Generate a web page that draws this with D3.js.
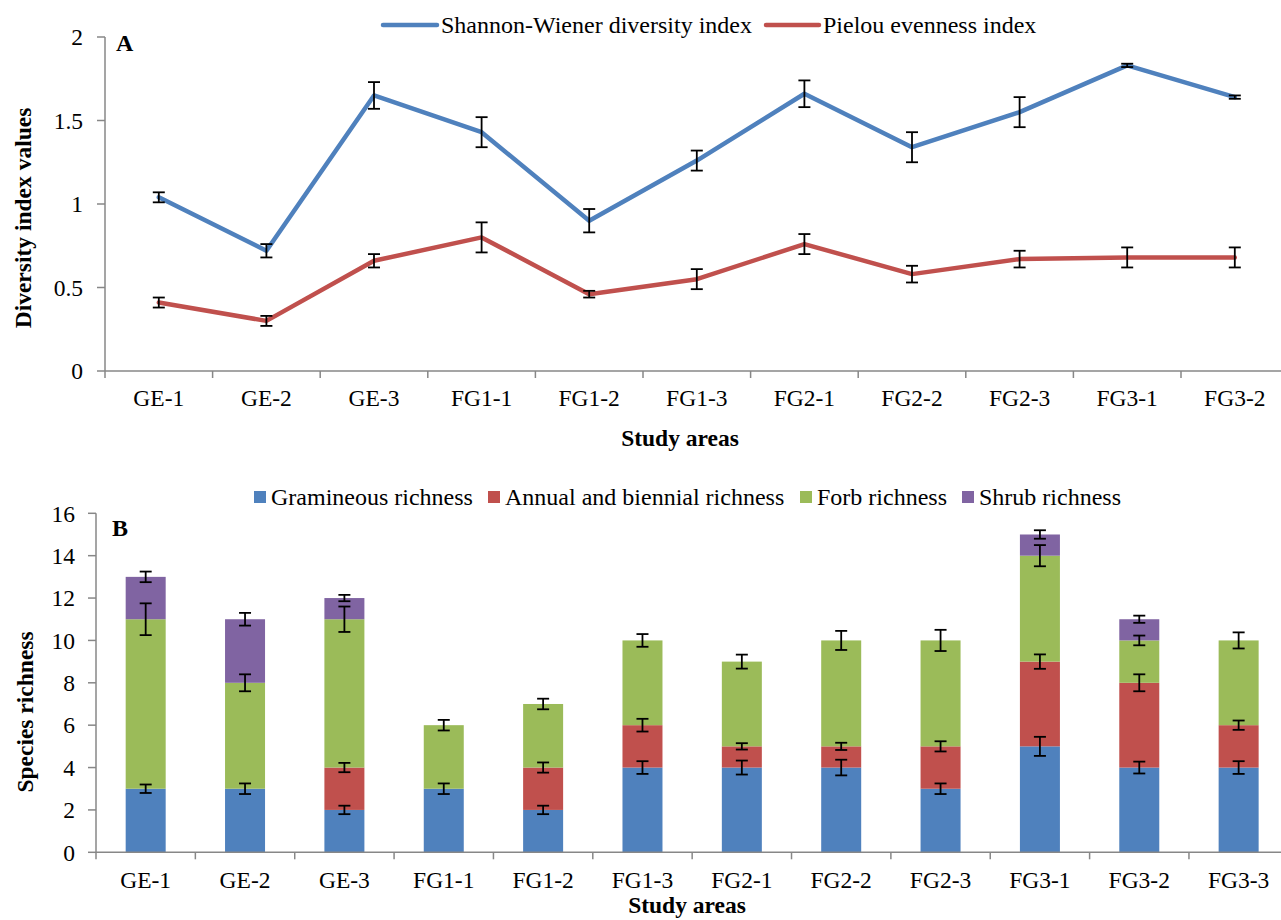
<!DOCTYPE html>
<html>
<head>
<meta charset="utf-8">
<script src="https://cdn.jsdelivr.net/npm/d3@7"></script>
<style>
  html, body { margin: 0; padding: 0; background: #fff; }
  svg { display: block; }
  text { font-family: "Liberation Serif", "Times New Roman", serif; fill: #000; }
</style>
</head>
<body>
<script>
// ---- Panel A: diversity indices ----
const sitesA = ["GE-1", "GE-2", "GE-3", "FG1-1", "FG1-2", "FG1-3", "FG2-1", "FG2-2", "FG2-3", "FG3-1", "FG3-2"];
const shannon    = [1.04, 0.72, 1.65, 1.43, 0.90, 1.26, 1.66, 1.34, 1.55, 1.83, 1.64];
const shannonErr = [0.03, 0.04, 0.08, 0.09, 0.07, 0.06, 0.08, 0.09, 0.09, 0.01, 0.01];
const pielou     = [0.41, 0.30, 0.66, 0.80, 0.46, 0.55, 0.76, 0.58, 0.67, 0.68, 0.68];
const pielouErr  = [0.03, 0.03, 0.04, 0.09, 0.02, 0.06, 0.06, 0.05, 0.05, 0.06, 0.06];
const ticksA = [0, 0.5, 1, 1.5, 2];

// ---- Panel B: species richness by life form ----
const sitesB = ["GE-1", "GE-2", "GE-3", "FG1-1", "FG1-2", "FG1-3", "FG2-1", "FG2-2", "FG2-3", "FG3-1", "FG3-2", "FG3-3"];
const gramineous    = [3, 3, 2, 3, 2, 4, 4, 4, 3, 5, 4, 4];
const gramineousErr = [0.2, 0.25, 0.2, 0.25, 0.2, 0.3, 0.33, 0.37, 0.25, 0.45, 0.28, 0.3];
const annual        = [0, 0, 2, 0, 2, 2, 1, 1, 2, 4, 4, 2];
const annualErr     = [0, 0, 0.22, 0, 0.24, 0.3, 0.15, 0.17, 0.24, 0.34, 0.4, 0.22];
const forb          = [8, 5, 7, 3, 3, 4, 4, 5, 5, 5, 2, 4];
const forbErr       = [0.75, 0.4, 0.6, 0.25, 0.25, 0.3, 0.33, 0.45, 0.5, 0.5, 0.23, 0.38];
const shrub         = [2, 3, 1, 0, 0, 0, 0, 0, 0, 1, 1, 0];
const shrubErr      = [0.25, 0.3, 0.15, 0, 0, 0, 0, 0, 0, 0.2, 0.17, 0];
const ticksB = [0, 2, 4, 6, 8, 10, 12, 14, 16];

const W = 1281, H = 920;
const axisColor = "#878787";
const svg = d3.select("body").append("svg").attr("width", W).attr("height", H);

function errorBar(g, x, yTop, yBot, cap) {
  g.append("line").attr("x1", x).attr("x2", x).attr("y1", yTop).attr("y2", yBot);
  g.append("line").attr("x1", x - cap / 2).attr("x2", x + cap / 2).attr("y1", yTop).attr("y2", yTop);
  g.append("line").attr("x1", x - cap / 2).attr("x2", x + cap / 2).attr("y1", yBot).attr("y2", yBot);
}

function categoryAxis(g, xs, y0, labelBase) {
  // axis line and boundary ticks between categories
  const edges = xs.domain().map(d => xs(d)).concat([xs.range()[1]]);
  g.append("line").attr("x1", xs.range()[0]).attr("x2", xs.range()[1])
    .attr("y1", y0).attr("y2", y0).attr("stroke", axisColor).attr("stroke-width", 1.5);
  g.selectAll(".xt").data(edges).join("line")
    .attr("x1", d => d).attr("x2", d => d).attr("y1", y0).attr("y2", y0 + 7)
    .attr("stroke", axisColor).attr("stroke-width", 1.5);
  g.selectAll(".xl").data(xs.domain()).join("text")
    .attr("x", d => xs(d) + xs.bandwidth() / 2).attr("y", labelBase)
    .attr("text-anchor", "middle").attr("font-size", 23.5).text(d => d);
}

function valueAxis(g, ys, x0, ticks, labelRight) {
  g.append("line").attr("x1", x0).attr("x2", x0)
    .attr("y1", ys.range()[0]).attr("y2", ys.range()[1])
    .attr("stroke", axisColor).attr("stroke-width", 1.5);
  g.selectAll(".yt").data(ticks).join("line")
    .attr("x1", x0 - 8).attr("x2", x0).attr("y1", d => ys(d)).attr("y2", d => ys(d))
    .attr("stroke", axisColor).attr("stroke-width", 1.5);
  g.selectAll(".yl").data(ticks).join("text")
    .attr("x", labelRight).attr("y", d => ys(d)).attr("dy", "0.35em")
    .attr("text-anchor", "end").attr("font-size", 23.5).text(d => d);
}

// ================= Panel A =================
{
  const g = svg.append("g");
  const x = d3.scaleBand().domain(sitesA).range([105, 105 + 107.6 * sitesA.length]).padding(0);
  const y = d3.scaleLinear().domain([0, 2]).range([371, 37]);
  const cx = d => x(d) + x.bandwidth() / 2;

  valueAxis(g, y, 105, ticksA, 83);
  categoryAxis(g, x, 371, 406);

  const series = [
    { name: "Shannon-Wiener diversity index", vals: shannon, err: shannonErr, color: "#4F81BD" },
    { name: "Pielou evenness index", vals: pielou, err: pielouErr, color: "#C0504D" }
  ];
  const line = d3.line().x((d, i) => cx(sitesA[i])).y(d => y(d));
  series.forEach(s => {
    g.append("path").datum(s.vals).attr("d", line).attr("fill", "none")
      .attr("stroke", s.color).attr("stroke-width", 4.5)
      .attr("stroke-linejoin", "round").attr("stroke-linecap", "round");
  });
  const eg = g.append("g").attr("stroke", "#000").attr("stroke-width", 1.8);
  series.forEach(s => {
    s.vals.forEach((v, i) => {
      errorBar(eg, cx(sitesA[i]), y(v + s.err[i]), y(v - s.err[i]), 12);
    });
  });

  // legend
  const lg = g.append("g");
  const legPos = [{ x1: 383, x2: 437, tx: 441 }, { x1: 766, x2: 819, tx: 823 }];
  series.forEach((s, i) => {
    lg.append("line").attr("x1", legPos[i].x1).attr("x2", legPos[i].x2).attr("y1", 25).attr("y2", 25)
      .attr("stroke", s.color).attr("stroke-width", 4.5).attr("stroke-linecap", "round");
    lg.append("text").attr("x", legPos[i].tx).attr("y", 33).attr("font-size", 24).text(s.name);
  });

  g.append("text").attr("x", 116).attr("y", 51).attr("font-size", 24).attr("font-weight", "bold").text("A");
  g.append("text").attr("x", 680).attr("y", 446).attr("text-anchor", "middle")
    .attr("font-size", 23.5).attr("font-weight", "bold").text("Study areas");
  g.append("text").attr("transform", "translate(31,218) rotate(-90)").attr("text-anchor", "middle")
    .attr("font-size", 23.5).attr("font-weight", "bold").text("Diversity index values");
}

// ================= Panel B =================
{
  const g = svg.append("g");
  const x = d3.scaleBand().domain(sitesB).range([96, 96 + 99.36 * sitesB.length]).padding(0);
  const y = d3.scaleLinear().domain([0, 16]).range([852.3, 513.3]);
  const barW = 40;
  const cx = d => x(d) + x.bandwidth() / 2;

  const keys = ["gramineous", "annual", "forb", "shrub"];
  const colors = { gramineous: "#4F81BD", annual: "#C0504D", forb: "#9BBB59", shrub: "#8064A2" };
  const errs = { gramineous: gramineousErr, annual: annualErr, forb: forbErr, shrub: shrubErr };
  const labels = { gramineous: "Gramineous richness", annual: "Annual and biennial richness", forb: "Forb richness", shrub: "Shrub richness" };
  const rows = sitesB.map((s, i) => ({ site: s, gramineous: gramineous[i], annual: annual[i], forb: forb[i], shrub: shrub[i] }));
  const stacked = d3.stack().keys(keys)(rows);

  stacked.forEach(layer => {
    g.append("g").attr("fill", colors[layer.key])
      .selectAll("rect").data(layer).join("rect")
      .attr("x", d => cx(d.data.site) - barW / 2)
      .attr("width", barW)
      .attr("y", d => y(d[1]))
      .attr("height", d => y(d[0]) - y(d[1]));
  });

  valueAxis(g, y, 96, ticksB, 75);
  categoryAxis(g, x, 852.3, 888);

  const eg = g.append("g").attr("stroke", "#000").attr("stroke-width", 1.8);
  stacked.forEach(layer => {
    layer.forEach((d, i) => {
      const v = d[1] - d[0];
      if (v <= 0) return;
      const e = errs[layer.key][i];
      errorBar(eg, cx(d.data.site), y(d[1] + e), y(d[1] - e), 12);
    });
  });

  // legend
  const legX = [254, 488, 800, 962];
  keys.forEach((k, i) => {
    g.append("rect").attr("x", legX[i]).attr("y", 491).attr("width", 12).attr("height", 12).attr("fill", colors[k]);
    g.append("text").attr("x", legX[i] + 17).attr("y", 505).attr("font-size", 24).text(labels[k]);
  });

  g.append("text").attr("x", 112).attr("y", 536).attr("font-size", 24).attr("font-weight", "bold").text("B");
  g.append("text").attr("x", 687).attr("y", 913).attr("text-anchor", "middle")
    .attr("font-size", 23.5).attr("font-weight", "bold").text("Study areas");
  g.append("text").attr("transform", "translate(33,712) rotate(-90)").attr("text-anchor", "middle")
    .attr("font-size", 23.5).attr("font-weight", "bold").text("Species richness");
}
</script>
</body>
</html>
